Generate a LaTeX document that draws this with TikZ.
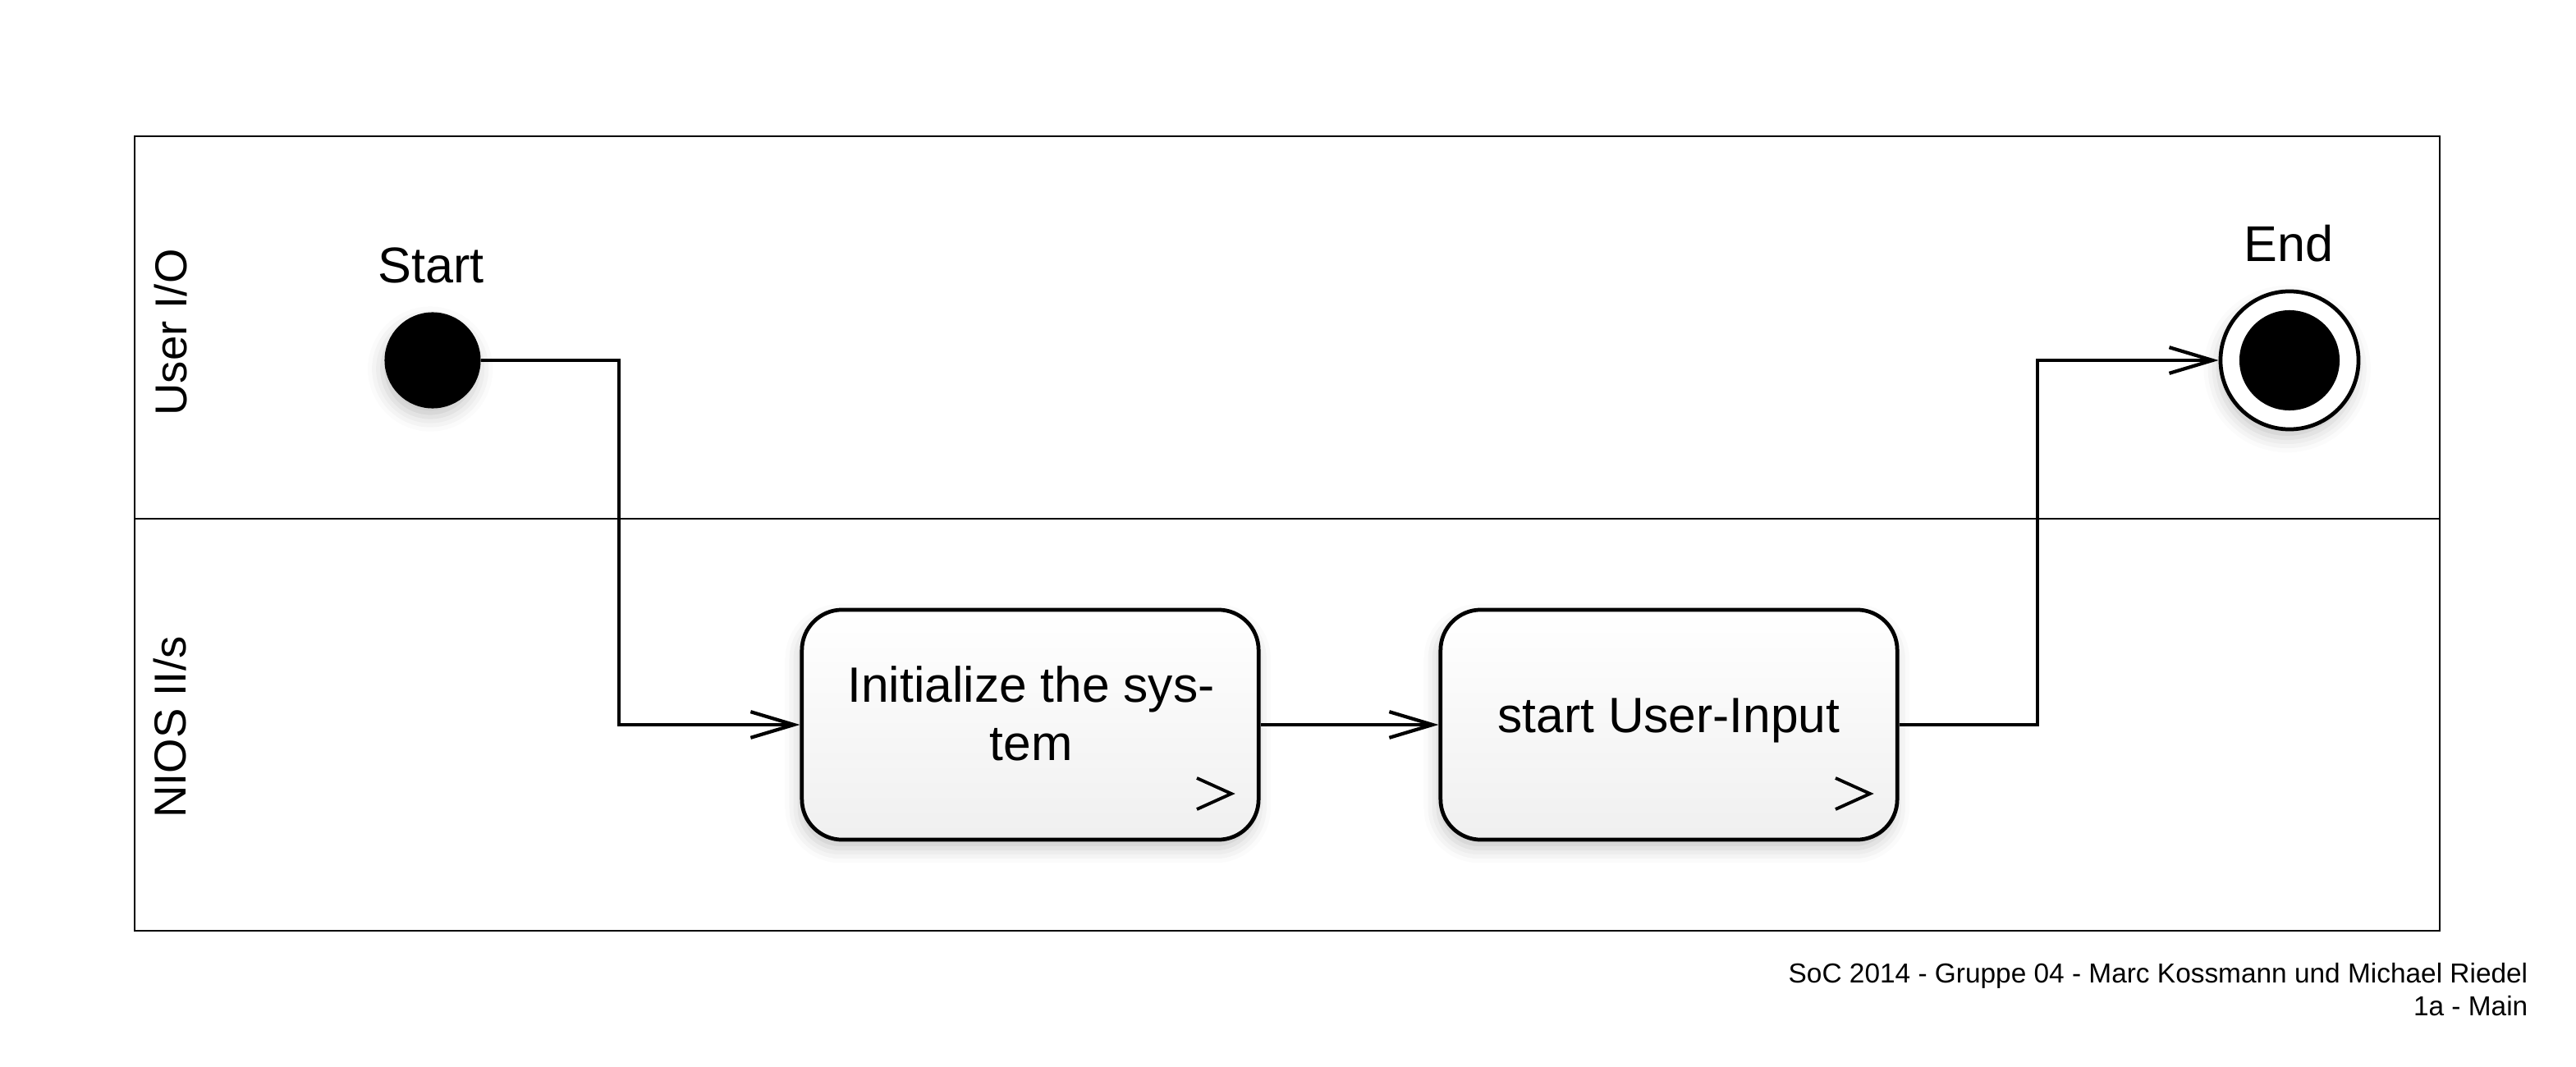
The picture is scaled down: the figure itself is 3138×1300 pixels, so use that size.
\documentclass[tikz,border=0pt]{standalone}
\usepackage{fontspec}
\setmainfont{Liberation Sans}
\usetikzlibrary{arrows.meta,shadows.blur}
\begin{document}
\begin{tikzpicture}[x=0.01cm,y=-0.01cm,
  lane/.style={draw=black,line width=0.75pt},
  shad/.style={blur shadow={shadow xshift=-0.8pt,shadow yshift=-3pt,shadow blur radius=5pt,shadow opacity=22}},
  act/.style={draw=black,line width=1.35pt,rounded corners=14pt,minimum width=5.56cm,minimum height=2.80cm,
    top color=white,bottom color=black!6,shad},
  acttext/.style={font=\fontsize{17.2}{20.2}\selectfont,align=center,inner sep=0pt},
  lbl/.style={font=\fontsize{17.4}{20}\selectfont,inner sep=0pt},
  lanelbl/.style={font=\fontsize{15.5}{18}\selectfont,rotate=90,inner sep=0pt},
  foot/.style={font=\fontsize{9.5}{11.4}\selectfont,inner sep=0pt,anchor=base east},
  conn/.style={draw=black,line width=1.2pt,-{Straight Barb[length=15pt,width=9pt,line width=1.2pt]}},
  chev/.style={draw=black,line width=1.1pt}
]
\useasboundingbox (0,0) rectangle (3138,1300);

% swimlanes
\draw[lane] (164,166) rectangle (2972,1134);
\coordinate (divL) at (164,632);
\coordinate (divR) at (2972,632);
\draw[lane] (divL) -- (divR);
\node[lanelbl] (l1) at (208,405) {User I/O};
\node[lanelbl] (l2) at (207,886) {NIOS II/s};

% start / end
\node[circle,fill=black,minimum size=1.17cm,inner sep=0pt,shad] (start) at (527,439) {};
\node[lbl,anchor=base] (startlbl) at (525,345) {Start};
\node[circle,draw=black,line width=1.35pt,fill=white,minimum size=1.68cm,inner sep=0pt,shad] (end) at (2789,439) {};
\node[circle,fill=black,minimum size=1.22cm,inner sep=0pt] (endin) at (end.center) {};
\node[lbl,anchor=base] (endlbl) at (2788,318) {End};

% actions
\node[act] (b1) at (1255,883) {};
\node[acttext] (t1) at (1256,869) {Initialize the sys-\\tem};
\node[act] (b2) at (2033,883) {};
\node[acttext] (t2) at (2033,878) {start User-Input};
\foreach \b in {b1,b2}{
  \draw[chev] ([shift={(203,65)}]\b.center) -- ([shift={(245,84)}]\b.center) -- ([shift={(203,103)}]\b.center);
}

% connectors
\coordinate (k1) at (754,600);
\coordinate (k2) at (2482,600);
\draw[conn] (start.east) -- (start.east -| k1) |- (b1.west);
\draw[conn] (b1.east) -- (b2.west);
\draw[conn] (b2.east) -- (b2.east -| k2) |- (end.west);

% footer
\node[foot] (f1) at (3080,1197) {SoC 2014 - Gruppe 04 - Marc Kossmann und Michael Riedel};
\node[foot] (f2) at (3080,1237) {1a - Main};
\end{tikzpicture}
\end{document}
